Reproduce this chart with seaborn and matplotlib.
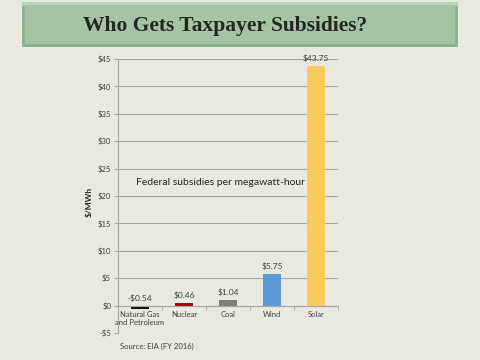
import matplotlib
matplotlib.use("Agg")
import matplotlib.pyplot as plt
from matplotlib.patches import Rectangle
import pandas as pd
import seaborn as sns

categories = ["Natural Gas\nand Petroleum", "Nuclear", "Coal", "Wind", "Solar"]
subsidy = [-0.54, 0.46, 1.04, 5.75, 43.75]
labels = ["-$0.54", "$0.46", "$1.04", "$5.75", "$43.75"]
colors = ["#111111", "#c00000", "#7f7f7f", "#5b9bd5", "#f9cb5a"]
yticks = [-5, 0, 5, 10, 15, 20, 25, 30, 35, 40, 45]

sns.set_style("white")
plt.rcParams["font.family"] = ["Lato", "DejaVu Sans"]

bg = "#e9e9e0"
fig = plt.figure(figsize=(4.8, 3.6), dpi=100, facecolor=bg)

# title banner with a light bevel
fig.patches.append(Rectangle((22 / 480, 1 - 47 / 360), 436 / 480, 45 / 360,
                             transform=fig.transFigure, facecolor="#8fb293",
                             edgecolor="none"))
fig.patches.append(Rectangle((22 / 480, 1 - 6 / 360), 436 / 480, 4 / 360,
                             transform=fig.transFigure, facecolor="#b8d3b9",
                             edgecolor="none"))
fig.patches.append(Rectangle((25 / 480, 1 - 44 / 360), 430 / 480, 39 / 360,
                             transform=fig.transFigure, facecolor="#a5c4a6",
                             edgecolor="none"))
fig.text(0.47, 1 - 26 / 360, "Who Gets Taxpayer Subsidies?",
         ha="center", va="center", fontsize=15.5, fontweight="bold",
         family=["Liberation Serif", "DejaVu Serif"], color="#262626")

ax = fig.add_axes([118 / 480, 1 - 333 / 360, 220 / 480, 274 / 360])
ax.set_facecolor("none")
df = pd.DataFrame({"source": categories, "subsidy": subsidy})
sns.barplot(data=df, x="source", y="subsidy", hue="source", palette=colors,
            legend=False, width=0.4, ax=ax, saturation=1,
            edgecolor="none", linewidth=0)

ax.set_ylim(-5, 45)
ax.set_xlim(-0.5, 4.5)
ax.set_yticks(yticks)
ax.set_yticklabels([f"-${-t}" if t < 0 else f"${t}" for t in yticks],
                   fontsize=5.5, color="#404040")
ax.yaxis.grid(True, color="#a6a6a6", linewidth=0.8)
ax.set_axisbelow(True)
for s in ["top", "right"]:
    ax.spines[s].set_visible(False)
ax.spines["left"].set_color("#a6a6a6")
ax.spines["bottom"].set_position(("data", 0))
ax.spines["bottom"].set_color("#a6a6a6")
ax.tick_params(axis="y", length=3, color="#a6a6a6", pad=2, left=True)
ax.set_xticks(range(len(categories)))
ax.set_xticklabels(categories, fontsize=5.5, color="#404040")
ax.tick_params(axis="x", length=0, pad=4)
ax.set_xticks([i - 0.5 for i in range(len(categories) + 1)], minor=True)
ax.tick_params(axis="x", which="minor", length=3, color="#a6a6a6", bottom=True)
ax.set_xlabel("")
ax.set_ylabel("$/MWh", fontsize=6, fontweight="bold", labelpad=2)
ax.yaxis.set_label_coords(-0.115, 0.48)

for i, (v, lab) in enumerate(zip(subsidy, labels)):
    ax.text(i, max(v, 0) + 0.7, lab, ha="center", va="bottom",
            fontsize=6, color="#404040")

ax.text(-0.1, 22.5, "Federal subsidies per megawatt-hour", fontsize=7.5,
        color="#262626", ha="left", va="center")
fig.text(120 / 480, 1 - 346 / 360, "Source: EIA (FY 2016)", fontsize=5.5,
         color="#404040", ha="left", va="center")

fig.savefig("out.png", dpi=100, facecolor=bg)
